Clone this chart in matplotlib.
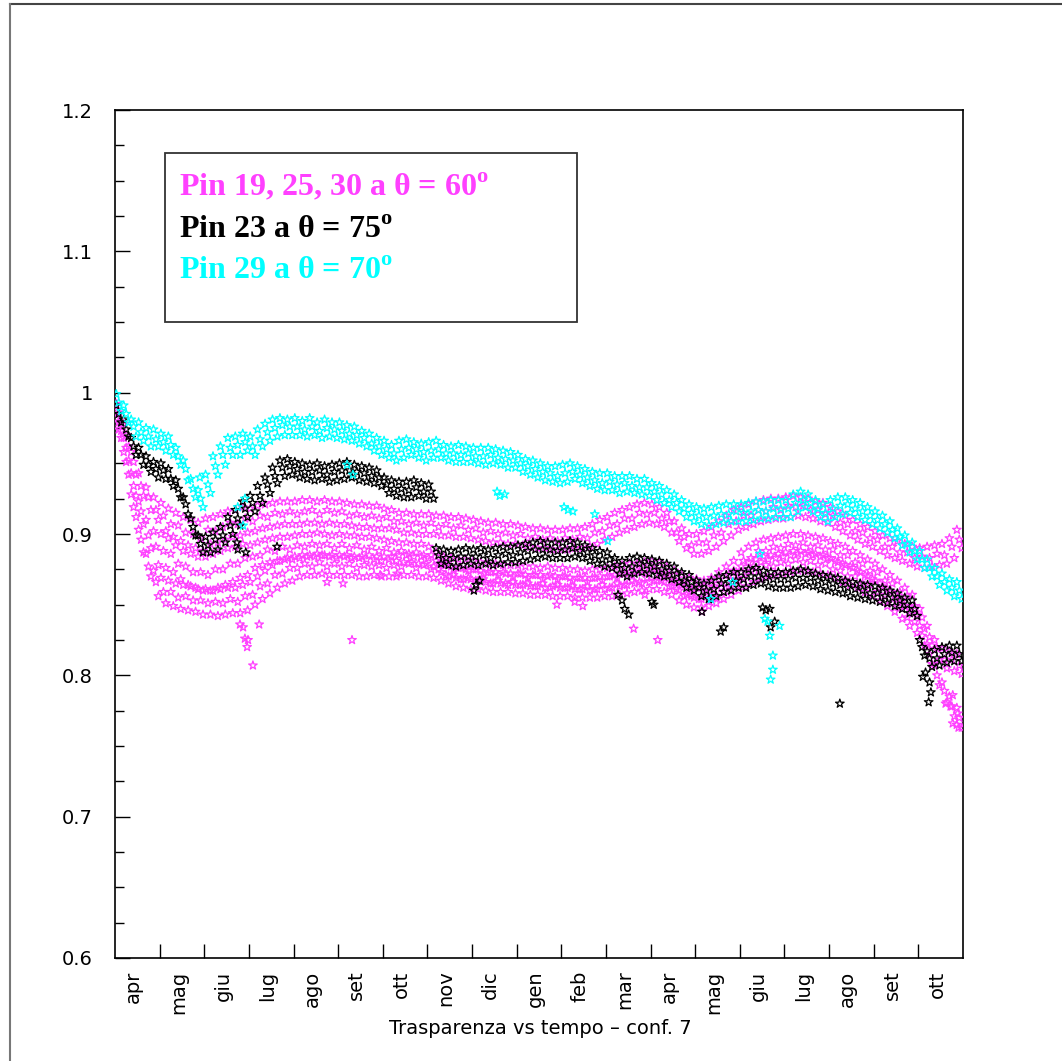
import numpy as np
import matplotlib
matplotlib.use('Agg')
import matplotlib.pyplot as plt
from matplotlib.lines import Line2D
from matplotlib.patches import Rectangle

plt.rcParams['mathtext.fontset'] = 'custom'
plt.rcParams['mathtext.rm'] = 'Liberation Serif:bold'
plt.rcParams['mathtext.bf'] = 'Liberation Serif:bold'

# month labels, one per month starting April
months = ['apr', 'mag', 'giu', 'lug', 'ago', 'set', 'ott', 'nov', 'dic', 'gen',
          'feb', 'mar', 'apr', 'mag', 'giu', 'lug', 'ago', 'set', 'ott']

# transparency x1000, 6 readings per month (one line = 2 months)
# each band read at its upper edge, middle and lower edge
cyan_hi = [999, 991, 981, 979, 975, 974,  971, 969, 961, 952, 939, 931,
           942, 955, 962, 968, 969, 971,  969, 974, 978, 981, 982, 981,
           982, 980, 982, 979, 981, 979,  979, 977, 976, 973, 971, 968,
           966, 963, 966, 967, 965, 964,  965, 966, 963, 962, 963, 962,
           961, 961, 961, 960, 959, 958,  956, 953, 952, 950, 948, 948,
           949, 950, 948, 946, 944, 943,  943, 941, 941, 941, 939, 939,
           936, 934, 931, 928, 924, 921,  919, 918, 919, 920, 921, 921,
           921, 922, 923, 923, 924, 924,  924, 928, 930, 928, 924, 921,
           924, 926, 926, 924, 922, 919,  916, 913, 909, 904, 899, 894,
           888, 882, 876, 872, 868, 866]
cyan_mid = [993, 985, 976, 972, 969, 967,  965, 963, 955, 946, 932, 925,
            935, 948, 956, 961, 963, 965,  962, 967, 972, 975, 977, 976,
            976, 974, 976, 973, 975, 974,  973, 971, 970, 968, 964, 962,
            960, 957, 960, 961, 960, 958,  959, 960, 957, 957, 956, 957,
            955, 955, 956, 954, 953, 952,  950, 948, 946, 944, 943, 941,
            943, 944, 942, 940, 938, 936,  937, 935, 936, 934, 933, 933,
            930, 928, 924, 922, 918, 915,  913, 912, 913, 914, 914, 916,
            915, 916, 917, 916, 918, 918,  918, 922, 924, 922, 918, 915,
            918, 920, 921, 918, 916, 913,  910, 907, 903, 898, 893, 888,
            882, 876, 870, 866, 862, 860]
cyan_lo = [987, 979, 969, 966, 962, 962,  959, 956, 949, 938, 926, 919,
           929, 942, 949, 956, 956, 959,  956, 962, 966, 969, 970, 970,
           970, 969, 970, 968, 969, 968,  967, 966, 964, 962, 959, 956,
           954, 952, 954, 956, 954, 952,  954, 954, 952, 951, 951, 951,
           950, 949, 950, 949, 947, 947,  944, 942, 940, 938, 937, 936,
           937, 939, 936, 934, 932, 931,  931, 929, 930, 929, 928, 927,
           924, 922, 919, 916, 912, 909,  907, 906, 907, 908, 909, 909,
           909, 910, 911, 911, 912, 912,  912, 916, 919, 916, 912, 909,
           912, 914, 915, 912, 910, 907,  904, 901, 897, 892, 887, 882,
           876, 870, 864, 860, 856, 854]

black_hi = [991, 981, 968, 961, 955, 951,  950, 946, 938, 926, 911, 899,
            898, 901, 905, 912, 917, 923,  927, 934, 940, 947, 952, 953,
            951, 950, 949, 950, 948, 949,  950, 951, 949, 948, 947, 945,
            940, 938, 937, 937, 938, 936,  935, 890, 889, 888, 889, 890,
            889, 890, 889, 890, 891, 891,  892, 893, 894, 895, 894, 894,
            894, 895, 894, 892, 890, 888,  887, 883, 881, 883, 884, 883,
            882, 881, 879, 877, 873, 871,  867, 865, 867, 870, 871, 873,
            873, 875, 876, 874, 873, 873,  873, 874, 875, 874, 872, 871,
            870, 869, 867, 866, 865, 864,  863, 862, 860, 858, 855, 853,
            825, 817, 818, 820, 821, 821]
black_mid = [985, 974, 962, 956, 949, 946,  945, 939, 932, 921, 905, 893,
             892, 896, 899, 906, 911, 918,  922, 927, 935, 941, 947, 948,
             946, 944, 944, 945, 942, 944,  945, 945, 944, 943, 941, 940,
             935, 932, 932, 931, 933, 930,  930, 885, 883, 883, 884, 884,
             884, 885, 883, 885, 886, 885,  887, 888, 889, 889, 889, 888,
             889, 890, 888, 887, 885, 882,  882, 878, 876, 877, 879, 878,
             877, 875, 874, 872, 867, 866,  862, 860, 861, 865, 866, 867,
             868, 870, 870, 869, 868, 868,  868, 869, 869, 869, 867, 866,
             865, 864, 862, 861, 860, 858,  858, 856, 855, 853, 850, 847,
             820, 812, 812, 815, 816, 815]
black_lo = [979, 969, 956, 949, 944, 940,  939, 934, 926, 914, 899, 887,
            887, 889, 894, 900, 906, 912,  916, 922, 929, 936, 941, 942,
            940, 939, 938, 939, 937, 938,  939, 940, 938, 937, 936, 934,
            929, 927, 926, 926, 927, 925,  925, 879, 878, 877, 878, 879,
            878, 879, 878, 879, 880, 880,  881, 882, 883, 884, 883, 883,
            883, 884, 883, 881, 879, 877,  876, 872, 870, 872, 873, 872,
            871, 870, 868, 866, 862, 860,  856, 854, 856, 859, 860, 862,
            862, 864, 865, 863, 862, 862,  862, 863, 864, 863, 861, 860,
            859, 858, 856, 855, 854, 853,  852, 851, 849, 847, 844, 842,
            814, 806, 807, 809, 810, 810]

pin_a_hi = [992, 978, 958, 943, 933, 926,  922, 918, 915, 912, 910, 908,
            911, 912, 914, 916, 917, 919,  918, 920, 921, 922, 923, 923,
            923, 924, 924, 923, 924, 923,  923, 922, 921, 921, 920, 920,
            918, 917, 915, 915, 914, 914,  914, 913, 913, 912, 912, 911,
            910, 909, 908, 908, 907, 907,  906, 905, 904, 904, 903, 903,
            903, 904, 904, 905, 907, 910,  912, 915, 917, 919, 921, 922,
            921, 919, 915, 909, 904, 900,  900, 902, 905, 909, 913, 917,
            919, 921, 923, 924, 925, 925,  926, 927, 926, 925, 923, 922,
            919, 916, 913, 910, 907, 905,  902, 899, 897, 895, 893, 891,
            890, 891, 892, 893, 897, 903]
pin_a_mid = [986, 970, 951, 934, 926, 917,  913, 907, 906, 901, 900, 897,
             903, 902, 905, 908, 907, 911,  909, 913, 912, 915, 914, 916,
             914, 916, 917, 914, 917, 915,  916, 913, 914, 912, 913, 911,
             912, 909, 909, 907, 908, 906,  908, 905, 907, 904, 906, 903,
             904, 901, 902, 900, 901, 899,  900, 897, 898, 896, 897, 895,
             897, 896, 898, 897, 901, 902,  906, 907, 911, 911, 915, 914,
             915, 911, 909, 901, 898, 892,  894, 894, 899, 901, 907, 909,
             913, 913, 917, 916, 919, 917,  920, 919, 920, 917, 917, 914,
             913, 908, 907, 902, 901, 897,  896, 891, 891, 887, 887, 883,
             884, 883, 886, 885, 891, 896]
pin_a_lo = [978, 962, 942, 927, 917, 910,  902, 898, 895, 892, 890, 888,
            893, 894, 896, 898, 899, 901,  902, 904, 905, 906, 907, 907,
            907, 908, 908, 907, 908, 907,  907, 906, 905, 905, 904, 904,
            904, 903, 901, 901, 900, 900,  900, 899, 899, 898, 898, 897,
            896, 895, 894, 894, 893, 893,  892, 891, 890, 890, 889, 889,
            889, 890, 890, 891, 893, 896,  898, 901, 903, 905, 907, 908,
            907, 905, 901, 895, 890, 886,  886, 888, 891, 895, 899, 903,
            905, 907, 909, 910, 911, 911,  912, 913, 912, 911, 909, 908,
            905, 902, 899, 896, 893, 891,  888, 885, 883, 881, 879, 877,
            876, 877, 878, 879, 883, 890]

pin_b_hi = [987, 968, 943, 923, 910, 902,  900, 897, 892, 888, 886, 884,
            884, 886, 888, 890, 891, 893,  892, 894, 896, 897, 898, 898,
            899, 900, 900, 901, 900, 899,  900, 899, 899, 898, 898, 897,
            896, 895, 894, 894, 893, 893,  891, 887, 884, 883, 882, 882,
            881, 880, 879, 879, 878, 878,  878, 877, 877, 876, 877, 876,
            876, 875, 875, 874, 875, 875,  876, 877, 878, 879, 879, 880,
            881, 880, 877, 874, 871, 869,  868, 867, 869, 873, 877, 881,
            887, 891, 894, 896, 897, 898,  899, 900, 900, 899, 898, 897,
            895, 893, 891, 888, 885, 882,  879, 875, 871, 867, 862, 857,
            847, 835, 825, 819, 817, 815]
pin_b_mid = [979, 961, 934, 916, 899, 891,  888, 886, 879, 877, 873, 873,
             871, 875, 875, 879, 879, 883,  884, 885, 889, 888, 891, 889,
             892, 891, 893, 892, 893, 890,  893, 890, 892, 889, 891, 888,
             890, 887, 888, 886, 887, 885,  885, 879, 878, 875, 876, 874,
             875, 872, 873, 871, 872, 870,  872, 869, 871, 868, 871, 868,
             870, 867, 869, 866, 869, 867,  870, 869, 872, 871, 873, 872,
             875, 872, 871, 866, 865, 861,  862, 859, 863, 865, 871, 873,
             881, 883, 888, 888, 891, 890,  893, 892, 894, 891, 892, 889,
             889, 885, 885, 880, 879, 874,  873, 867, 865, 859, 856, 849,
             841, 827, 819, 811, 811, 807]
pin_b_lo = [973, 952, 927, 907, 890, 878,  876, 873, 868, 864, 862, 860,
            860, 862, 864, 866, 869, 871,  876, 878, 880, 881, 882, 882,
            883, 884, 884, 885, 884, 883,  884, 883, 883, 882, 882, 881,
            882, 881, 880, 880, 879, 879,  877, 873, 870, 869, 868, 868,
            867, 866, 865, 865, 864, 864,  864, 863, 863, 862, 863, 862,
            862, 861, 861, 860, 861, 861,  862, 863, 864, 865, 865, 866,
            867, 866, 863, 860, 857, 855,  854, 853, 855, 859, 863, 867,
            873, 877, 880, 882, 883, 884,  885, 886, 886, 885, 884, 883,
            881, 879, 877, 874, 871, 868,  865, 861, 857, 853, 848, 843,
            833, 821, 811, 805, 803, 801]

pin_c_hi = [982, 958, 928, 903, 886, 874,  869, 867, 865, 864, 863, 861,
            861, 860, 861, 862, 862, 864,  866, 870, 874, 878, 881, 883,
            884, 885, 885, 886, 885, 885,  885, 885, 884, 884, 885, 884,
            884, 884, 885, 885, 884, 884,  883, 881, 879, 877, 876, 875,
            875, 874, 873, 873, 873, 872,  872, 871, 871, 871, 870, 870,
            870, 869, 869, 869, 869, 870,  870, 871, 872, 873, 874, 875,
            875, 873, 871, 867, 864, 862,  862, 863, 865, 868, 871, 874,
            877, 880, 882, 884, 885, 886,  887, 888, 888, 887, 886, 885,
            883, 880, 878, 876, 873, 870,  867, 863, 859, 854, 849, 844,
            835, 822, 807, 795, 785, 777]
pin_c_mid = [974, 951, 919, 896, 877, 866,  859, 859, 855, 856, 853, 853,
             851, 852, 851, 854, 852, 856,  857, 863, 865, 871, 872, 876,
             876, 879, 877, 880, 877, 879,  877, 879, 876, 878, 877, 878,
             876, 878, 877, 879, 876, 878,  875, 875, 871, 871, 868, 869,
             867, 868, 865, 867, 865, 866,  864, 865, 863, 865, 862, 864,
             862, 863, 861, 863, 861, 864,  862, 865, 864, 867, 866, 869,
             867, 867, 863, 861, 856, 856,  854, 857, 857, 862, 863, 868,
             869, 874, 874, 878, 877, 880,  879, 882, 880, 881, 878, 879,
             875, 874, 870, 870, 865, 864,  859, 857, 851, 848, 841, 838,
             828, 815, 800, 789, 778, 770]
pin_c_lo = [968, 942, 912, 887, 870, 856,  851, 849, 847, 846, 845, 843,
            843, 842, 843, 844, 844, 846,  850, 854, 858, 862, 865, 867,
            870, 871, 871, 872, 871, 871,  871, 871, 870, 870, 871, 870,
            870, 870, 871, 871, 870, 870,  869, 867, 865, 863, 862, 861,
            861, 860, 859, 859, 859, 858,  858, 857, 857, 857, 856, 856,
            856, 855, 855, 855, 855, 856,  856, 857, 858, 859, 860, 861,
            861, 859, 857, 853, 850, 848,  848, 849, 851, 854, 857, 860,
            863, 866, 868, 870, 871, 872,  873, 874, 874, 873, 872, 871,
            869, 866, 864, 862, 859, 856,  853, 849, 845, 840, 835, 830,
            821, 808, 793, 781, 771, 763]

# isolated readings (month, transparency)
cyan_out_t = [1.90, 2.75, 2.87, 2.91, 5.20, 5.33, 8.56, 8.62, 8.73, 10.06, 10.15, 10.26,
              10.75, 11.04, 13.35, 13.84, 14.45, 14.56, 14.62, 14.67, 14.74, 14.74, 14.69, 14.89]
cyan_out_v = [0.940, 0.919, 0.906, 0.925, 0.949, 0.942, 0.930, 0.927, 0.928, 0.919, 0.917, 0.916,
              0.914, 0.895, 0.854, 0.866, 0.886, 0.840, 0.838, 0.828, 0.814, 0.804, 0.797, 0.835]
black_out_t = [2.73, 2.75, 2.93, 3.63, 8.04, 8.09, 8.17, 11.27, 11.36, 11.42, 11.51, 12.03, 12.07,
               13.15, 13.57, 13.64, 14.51, 14.58, 14.67, 14.69, 14.78, 16.24, 18.10, 18.16,
               18.25, 18.28, 18.23]
black_out_v = [0.894, 0.889, 0.887, 0.891, 0.860, 0.864, 0.867, 0.857, 0.853, 0.847, 0.843, 0.852,
               0.850, 0.845, 0.831, 0.834, 0.848, 0.846, 0.847, 0.834, 0.838, 0.780, 0.799, 0.802,
               0.795, 0.788, 0.781]
mag_out_t = [2.80, 2.87, 2.91, 2.96, 2.98, 3.09, 3.23, 5.31, 4.75, 5.11, 5.94, 6.32, 11.62, 12.16,
             11.87, 9.90, 10.30, 10.48, 13.15, 18.77, 18.61, 18.72, 18.88, 18.77, 18.86, 18.90]
mag_out_v = [0.836, 0.834, 0.826, 0.820, 0.825, 0.807, 0.836, 0.825, 0.866, 0.865, 0.871, 0.872,
             0.833, 0.825, 0.857, 0.850, 0.852, 0.849, 0.845, 0.786, 0.780, 0.778, 0.773, 0.766,
             0.765, 0.763]

MAG = '#ff40ff'
CYAN = '#00ffff'
SZ = 42

fig = plt.figure(figsize=(10.62, 10.61), dpi=100)
ax = fig.add_axes([0.1083, 0.0971, 0.7985, 0.7992])


def stars(vals, shift, color):
    t = (np.arange(len(vals)) + shift) / 6.0
    ax.scatter(t, np.array(vals) / 1000.0, marker='*', s=SZ, facecolors='none',
               edgecolors=color, linewidths=0.9, zorder=3)


def band(hi, mid, lo, color):
    stars(hi, 0.17, color)
    stars(mid, 0.5, color)
    stars(lo, 0.83, color)


band(pin_a_hi, pin_a_mid, pin_a_lo, MAG)
band(pin_b_hi, pin_b_mid, pin_b_lo, MAG)
band(pin_c_hi, pin_c_mid, pin_c_lo, MAG)
ax.scatter(mag_out_t, mag_out_v, marker='*', s=SZ, facecolors='none', edgecolors=MAG, linewidths=0.9, zorder=3)

band(black_hi, black_mid, black_lo, 'black')
ax.scatter(black_out_t, black_out_v, marker='*', s=SZ, facecolors='none', edgecolors='black', linewidths=0.9, zorder=3)

band(cyan_hi, cyan_mid, cyan_lo, CYAN)
ax.scatter(cyan_out_t, cyan_out_v, marker='*', s=SZ, facecolors='none', edgecolors=CYAN, linewidths=0.9, zorder=3)

ax.set_xlim(0, 19)
ax.set_ylim(0.6, 1.2)

# y axis: ticks inside on the left only
ax.set_yticks([0.6, 0.7, 0.8, 0.9, 1.0, 1.1, 1.2], ['0.6', '0.7', '0.8', '0.9', '1', '1.1', '1.2'])
ax.set_yticks(np.arange(0.6, 1.2001, 0.025), minor=True)
ax.tick_params(axis='y', which='major', direction='in', length=11, width=1, labelsize=14, pad=16)
ax.tick_params(axis='y', which='minor', direction='in', length=6.5, width=1)

# x axis: ticks at month boundaries, labels inside each month
ax.set_xticks(np.arange(1, 19), [''] * 18)
ax.set_xticks(np.arange(19) + 0.42, months, minor=True)
ax.tick_params(axis='x', which='major', direction='in', length=10, width=1)
ax.tick_params(axis='x', which='minor', length=0, labelsize=14, labelrotation=90, pad=9)
for lab in ax.get_xticklabels(minor=True):
    lab.set_verticalalignment('top')

for sp in ax.spines.values():
    sp.set_linewidth(1.2)

fig.text(540 / 1062, 1 - 1029 / 1061, 'Trasparenza vs tempo – conf. 7',
         ha='center', va='center', fontsize=14)

# legend box
fig.add_artist(Rectangle((0.1554, 0.6965), 0.388, 0.1593, transform=fig.transFigure,
                         fill=False, edgecolor='#333333', linewidth=1.3))
leg = [('Pin 19, 25, 30 a θ = 60$^{\\mathrm{o}}$', MAG, 0.8162),
       ('Pin 23 a θ = 75$^{\\mathrm{o}}$', 'black', 0.7757),
       ('Pin 29 a θ = 70$^{\\mathrm{o}}$', CYAN, 0.7370)]
for txt, col, yy in leg:
    fig.text(0.1685, yy, txt, color=col, fontsize=23, fontfamily='Liberation Serif',
             fontweight='bold', va='baseline')

# outer frame of the page
fig.add_artist(Line2D([10 / 1062, 1], [1 - 4 / 1061, 1 - 4 / 1061], transform=fig.transFigure,
                      color='#444444', linewidth=1.5))
fig.add_artist(Line2D([10 / 1062, 10 / 1062], [0, 1 - 4 / 1061], transform=fig.transFigure,
                      color='#777777', linewidth=1.5))

fig.savefig('out.png', dpi=100)
